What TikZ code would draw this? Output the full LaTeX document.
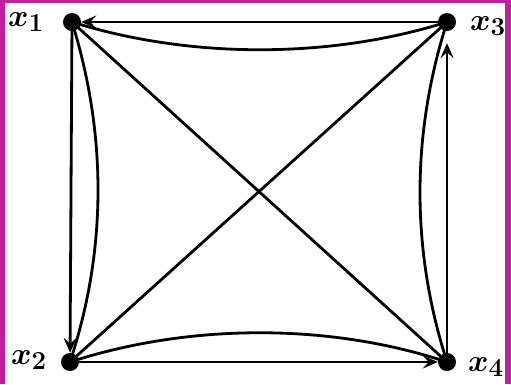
\documentclass[tikz,border=0pt]{standalone}
\usetikzlibrary{arrows.meta}
\definecolor{frame}{RGB}{192,32,160}
\begin{document}
\begin{tikzpicture}[x=1pt,y=-1pt,
  vtx/.style={circle,fill=black,inner sep=0pt,minimum size=18pt},
  lbl/.style={inner sep=0pt,font=\fontsize{24.88}{28}\selectfont\boldmath,scale=1.25},
  edge/.style={line width=2.8pt,black},
  arr/.style={edge,-{Stealth[length=15pt,width=13pt,inset=6pt]}}]
\useasboundingbox (0,0) rectangle (511,384);
\fill[white] (0,0) rectangle (511,384);
\fill[frame] (0,0) rectangle (5,384);
\fill[frame] (505,0) rectangle (511,384);
\fill[frame] (0,0) rectangle (511,3);
\node[vtx] (x1) at (72,22) {};
\node[vtx] (x3) at (447,22) {};
\node[vtx] (x2) at (70,362) {};
\node[vtx] (x4) at (447,362) {};
\node[lbl] (l1) at (26,22) {$x_1$};
\node[lbl] (l3) at (488,26) {$x_3$};
\node[lbl] (l2) at (29,360) {$x_2$};
\node[lbl] (l4) at (486,367) {$x_4$};
% straight sides
\draw[arr] (x3) -- (x1);
\draw[arr] (x1) -- (x2);
\draw[arr] (x2) -- (x4);
\draw[arr,shorten >=12pt] (x4) -- (x3);
% curved sides
\draw[edge] (x1.center) .. controls (190,59) and (330,59) .. (x3.center);
\draw[edge] (x2.center) .. controls (190,323) and (330,323) .. (x4.center);
\draw[edge] (x1.center) .. controls (107,135) and (107,250) .. (x2.center);
\draw[edge] (x3.center) .. controls (411,135) and (411,250) .. (x4.center);
% diagonals
\draw[edge] (x1.center) -- (x4.center);
\draw[edge] (x2.center) -- (x3.center);
\end{tikzpicture}
\end{document}
